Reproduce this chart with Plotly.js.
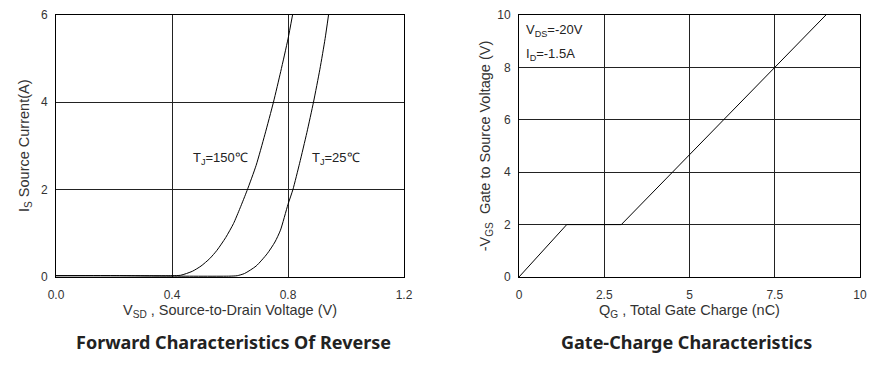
<!DOCTYPE html>
<html>
<head>
<meta charset="utf-8">
<script src="https://cdn.plot.ly/plotly-3.0.1.min.js"></script>
<style>html,body{margin:0;padding:0;background:#fff;}#chart{width:879px;height:372px;}</style>
</head>
<body>
<div id="chart"></div>
<script>
// Forward characteristics (left)
const vsd150 = [0.0, 0.2, 0.40, 0.43, 0.47, 0.50, 0.53, 0.555, 0.585, 0.612, 0.635, 0.659, 0.69, 0.72, 0.75, 0.775, 0.80, 0.816];
const is150  = [0.03, 0.03, 0.03, 0.04, 0.13, 0.25, 0.42, 0.61, 0.90, 1.22, 1.58, 1.98, 2.55, 3.25, 4.00, 4.70, 5.44, 6.0];
const vsd25  = [0.0, 0.2, 0.4, 0.6, 0.625, 0.65, 0.69, 0.728, 0.755, 0.774, 0.80, 0.817, 0.84, 0.865, 0.888, 0.91, 0.928, 0.940];
const is25   = [0.03, 0.03, 0.02, 0.02, 0.03, 0.08, 0.25, 0.53, 0.80, 1.07, 1.66, 2.00, 2.60, 3.30, 4.00, 4.75, 5.45, 6.0];
const xTicks1 = [0, 0.4, 0.8, 1.2];
const xTickText1 = ['0.0', '0.4', '0.8', '1.2'];
const yTicks1 = [0, 2, 4, 6];

// Gate charge (right)
const qg  = [0, 1.4, 3.0, 9.0];
const vgs = [0, 2.0, 2.0, 10.0];
const xTicks2 = [0, 2.5, 5, 7.5, 10];
const yTicks2 = [0, 2, 4, 6, 8, 10];

const W = 879, H = 372;
const fx = p => p / W;
const fy = p => 1 - p / H;

const FAM = "'Liberation Sans', Arial, sans-serif";
const tickFont = {family: FAM, size: 12, color: '#333'};
const titleFont = {family: FAM, size: 14.5, color: '#333'};
const noteFont = {family: FAM, size: 13, color: '#222'};
const headFont = {family: "'Noto Sans', sans-serif", size: 18, color: '#222'};

const axBase = {
  showline: true, linecolor: '#000', linewidth: 1, mirror: true,
  showgrid: true, gridcolor: '#222', gridwidth: 1,
  zeroline: false, ticks: '', tickfont: tickFont, fixedrange: true
};

const traces = [
  {x: vsd150, y: is150, xaxis: 'x', yaxis: 'y', mode: 'lines', line: {color: '#000', width: 1, shape: 'spline', smoothing: 0.6}, hoverinfo: 'skip'},
  {x: vsd25, y: is25, xaxis: 'x', yaxis: 'y', mode: 'lines', line: {color: '#000', width: 1, shape: 'spline', smoothing: 0.6}, hoverinfo: 'skip'},
  {x: qg, y: vgs, xaxis: 'x2', yaxis: 'y2', mode: 'lines', line: {color: '#000', width: 1}, hoverinfo: 'skip'}
];

const layout = {
  width: W, height: H,
  margin: {l: 0, r: 0, t: 0, b: 0},
  paper_bgcolor: '#fff', plot_bgcolor: '#fff',
  showlegend: false,
  xaxis: Object.assign({}, axBase, {
    domain: [fx(56), fx(404)], range: [0, 1.2], tickvals: xTicks1, ticktext: xTickText1, anchor: 'y',
    ticklabelstandoff: 7,
    title: {text: 'V<sub>SD</sub> , Source-to-Drain Voltage (V)', font: titleFont, standoff: 3}
  }),
  yaxis: Object.assign({}, axBase, {
    domain: [fy(277), fy(14.5)], range: [0, 6], tickvals: yTicks1, anchor: 'x',
    ticklabelstandoff: 5,
    title: {text: 'I<sub>S</sub> Source Current(A)', font: titleFont, standoff: 7}
  }),
  xaxis2: Object.assign({}, axBase, {
    domain: [fx(519), fx(860)], range: [0, 10], tickvals: xTicks2, anchor: 'y2',
    ticklabelstandoff: 7,
    title: {text: 'Q<sub>G</sub> , Total Gate Charge (nC)', font: titleFont, standoff: 3}
  }),
  yaxis2: Object.assign({}, axBase, {
    domain: [fy(277), fy(15)], range: [0, 10], tickvals: yTicks2, anchor: 'x2',
    ticklabelstandoff: 5,
    title: {text: '-V<sub>GS</sub>  Gate to Source Voltage (V)', font: titleFont, standoff: 3}
  }),
  annotations: [
    {xref: 'x', yref: 'y', x: 0.567, y: 2.72, xanchor: 'center', text: 'T<sub>J</sub>=150℃', showarrow: false, font: noteFont},
    {xref: 'x', yref: 'y', x: 0.966, y: 2.72, xanchor: 'center', text: 'T<sub>J</sub>=25℃', showarrow: false, font: noteFont},
    {xref: 'x2', yref: 'y2', x: 0.15, y: 9.4, xanchor: 'left', text: 'V<sub>DS</sub>=-20V', showarrow: false, font: noteFont},
    {xref: 'x2', yref: 'y2', x: 0.15, y: 8.5, xanchor: 'left', text: 'I<sub>D</sub>=-1.5A', showarrow: false, font: noteFont},
    {xref: 'paper', yref: 'paper', x: fx(233), y: fy(342), xanchor: 'center', yanchor: 'middle', text: '<b>Forward Characteristics Of Reverse</b>', showarrow: false, font: headFont},
    {xref: 'paper', yref: 'paper', x: fx(686), y: fy(342), xanchor: 'center', yanchor: 'middle', text: '<b>Gate-Charge Characteristics</b>', showarrow: false, font: headFont}
  ]
};

Plotly.newPlot('chart', traces, layout, {displayModeBar: false, staticPlot: true});
</script>
</body>
</html>
